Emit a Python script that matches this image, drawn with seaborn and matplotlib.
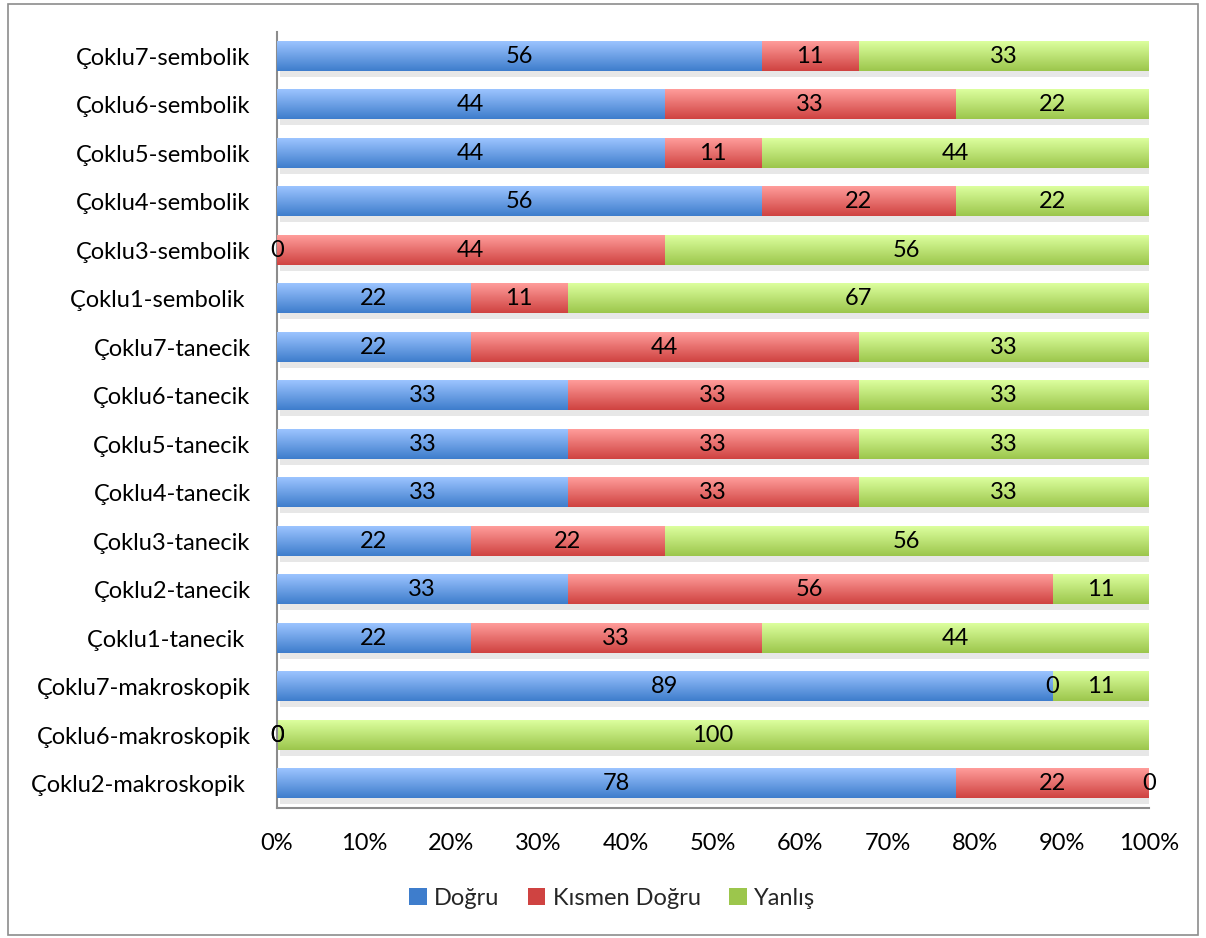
import numpy as np
import pandas as pd
import matplotlib
matplotlib.use("Agg")
import matplotlib.pyplot as plt
from matplotlib.patches import Patch, Rectangle
from matplotlib.ticker import PercentFormatter
import seaborn as sns

# data (top to bottom), percentages
items = ["Çoklu7-sembolik", "Çoklu6-sembolik", "Çoklu5-sembolik", "Çoklu4-sembolik",
         "Çoklu3-sembolik", "Çoklu1-sembolik ", "Çoklu7-tanecik", "Çoklu6-tanecik",
         "Çoklu5-tanecik", "Çoklu4-tanecik", "Çoklu3-tanecik", "Çoklu2-tanecik",
         "Çoklu1-tanecik ", "Çoklu7-makroskopik", "Çoklu6-makroskopik", "Çoklu2-makroskopik "]
dogru = [55.6, 44.4, 44.4, 55.6, 0, 22.2, 22.2, 33.3, 33.3, 33.3, 22.2, 33.3, 22.2, 88.9, 0, 77.8]
kismen = [11.1, 33.3, 11.1, 22.2, 44.4, 11.1, 44.4, 33.3, 33.3, 33.3, 22.2, 55.6, 33.3, 0, 0, 22.2]
yanlis = [33.3, 22.2, 44.4, 22.2, 55.6, 66.7, 33.3, 33.3, 33.3, 33.3, 55.6, 11.1, 44.4, 11.1, 100, 0]
series = ["Doğru", "Kısmen Doğru", "Yanlış"]

df = pd.DataFrame({"item": items, "Doğru": dogru, "Kısmen Doğru": kismen, "Yanlış": yanlis})
tot = df[series].sum(axis=1)
pct = df[series].div(tot, axis=0) * 100
df["c1"] = pct["Doğru"]
df["c2"] = pct["Doğru"] + pct["Kısmen Doğru"]
df["c3"] = df["c2"] + pct["Yanlış"]

sns.set_style("white")
plt.rcParams["font.family"] = ["Lato", "DejaVu Sans"]
FS = 17

grads = {
    "Yanlış": ("#dcff9e", "#9cc64c"),
    "Kısmen Doğru": ("#ff9c9a", "#cf4341"),
    "Doğru": ("#9cc4ff", "#3e7dcc"),
}

fig, ax = plt.subplots(figsize=(12.06, 9.38), dpi=100)
fig.subplots_adjust(left=277/1206, right=1149/1206, top=1-32/938, bottom=1-808/938)

for col, name in [("c3", "Yanlış"), ("c2", "Kısmen Doğru"), ("c1", "Doğru")]:
    sns.barplot(data=df, x=col, y="item", color=grads[name][1], width=0.6,
                edgecolor="none", linewidth=0, ax=ax)

n = len(items)
patches = ax.patches
green, red, blue = patches[:n], patches[n:2*n], patches[2*n:]

ylim = ax.get_ylim()
z = 2
for group, name in [(green, "Yanlış"), (red, "Kısmen Doğru"), (blue, "Doğru")]:
    top = matplotlib.colors.to_rgb(grads[name][0])
    bot = matplotlib.colors.to_rgb(grads[name][1])
    t = np.linspace(0, 1, 64)[:, None]
    img = (np.array(top)[None, :] * (1 - t) + np.array(bot)[None, :] * t)[:, None, :]
    for p in group:
        p.set_facecolor("none")
        x0, w = p.get_x(), p.get_width()
        y0, h = p.get_y(), p.get_height()
        if name == "Yanlış":
            ax.add_patch(Rectangle((x0 + 0.3, y0 + 0.12), w, h, facecolor="#c4c4c4",
                                  edgecolor="none", alpha=0.4, zorder=1))
        if w > 0:
            ax.imshow(img, extent=(x0, x0 + w, y0 + h, y0), origin="upper",
                      aspect="auto", zorder=z, interpolation="bilinear")
    z += 1

ax.set_xlim(0, 100)
ax.set_ylim(ylim)

# data labels
for i in range(n):
    segs = [(0, df["c1"][i], dogru[i]), (df["c1"][i], df["c2"][i], kismen[i]),
            (df["c2"][i], df["c3"][i], yanlis[i])]
    for a, b, v in segs:
        ax.text((a + b) / 2, i, f"{v:.0f}", ha="center", va="center", fontsize=FS,
                color="black", zorder=10)

ax.xaxis.set_major_formatter(PercentFormatter(decimals=0))
ax.set_xticks(np.arange(0, 101, 10))
ax.set_xlabel("")
ax.set_ylabel("")
ax.tick_params(axis="both", length=0, labelsize=FS, colors="black")
ax.tick_params(axis="x", pad=18)
ax.tick_params(axis="y", pad=19)
for s in ["top", "right"]:
    ax.spines[s].set_visible(False)
for s in ["left", "bottom"]:
    ax.spines[s].set_color("#8c8c8c")
    ax.spines[s].set_linewidth(1.5)

handles = [Patch(facecolor=grads[s][1], edgecolor="none") for s in series]
fig.legend(handles, series, loc="center", bbox_to_anchor=(612/1206, 1-898/938), ncol=3,
           frameon=False, fontsize=FS, handlelength=0.75, handleheight=0.75,
           handletextpad=0.3, columnspacing=1.2)

fig.patches.append(Rectangle((8/1206, 3/938), 1190/1206, 931/938, transform=fig.transFigure,
                             fill=False, edgecolor="#8c8c8c", linewidth=1.2))

fig.savefig("out.png", dpi=100)
